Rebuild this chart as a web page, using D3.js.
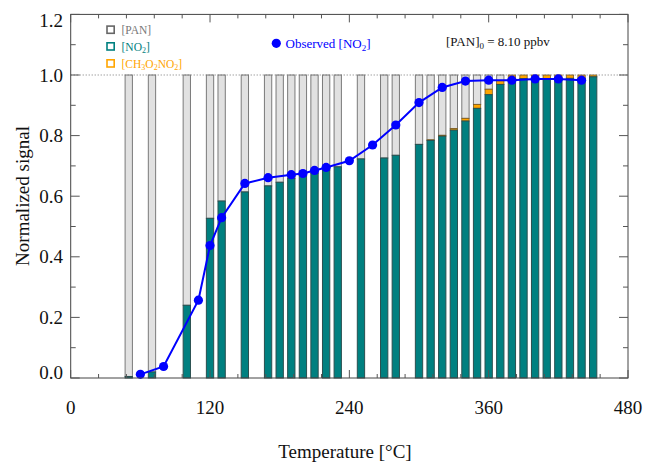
<!DOCTYPE html>
<html><head><meta charset="utf-8">
<script src="https://cdn.jsdelivr.net/npm/d3@7"></script>
<style>body{margin:0;background:#fff}svg{display:block}text{font-family:"Liberation Serif","Times New Roman",serif}</style>
</head><body>
<svg id="c" width="645" height="462"></svg>
<script>
const temps = [50,70,100,120,130,150,170,180,190,200,210,220,230,250,270,280,300,310,320,330,340,350,360,370,380,390,400,410,420,430,440,450];
const no2Frac = [0.005,0.02,0.24,0.527,0.584,0.614,0.634,0.646,0.659,0.668,0.676,0.686,0.697,0.723,0.726,0.735,0.771,0.784,0.798,0.818,0.848,0.89,0.935,0.969,0.987,0.988,0.988,0.988,0.989,0.989,0.989,0.994];
const ch3Frac = [0,0,0,0,0,0,0,0,0,0,0,0,0,0,0,0,0,0.002,0.003,0.005,0.009,0.013,0.018,0.012,0.013,0.012,0.012,0.012,0.011,0.011,0.011,0.006];
const panFrac = [0.995,0.98,0.76,0.473,0.416,0.386,0.366,0.354,0.341,0.332,0.324,0.314,0.303,0.277,0.274,0.265,0.229,0.214,0.199,0.177,0.143,0.097,0.047,0.019,0,0,0,0,0,0,0,0];
const obsTemps = [60,80,110,120,130,150,170,190,200,210,220,240,260,280,300,320,340,360,380,400,420,440];
const obsNO2 = [0.012,0.038,0.257,0.437,0.529,0.642,0.661,0.671,0.675,0.685,0.695,0.717,0.769,0.835,0.909,0.959,0.98,0.983,0.983,0.987,0.987,0.983];
const xTicks = [0,120,240,360,480];
const yTicks = [0,0.2,0.4,0.6,0.8,1.0,1.2];

const svg = d3.select("#c");
const L=70.7, R=628, T=14.4, B=378;
const x = d3.scaleLinear().domain([0,480]).range([L,R]);
const y = d3.scaleLinear().domain([0,1.2]).range([B,T]);
const barW = 6.3;
const bw = x(barW)-x(0);

// bars
const g = svg.append("g");
temps.forEach((t,i)=>{
  const n = no2Frac[i], c = ch3Frac[i], p = panFrac[i];
  const x0 = x(t)-bw/2;
  if (p>0) g.append("rect").attr("x",x0).attr("width",bw).attr("y",y(n+c+p)).attr("height",y(n+c)-y(n+c+p))
    .attr("fill","#e1e1e1").attr("stroke","#7a7a7a").attr("stroke-width",1);
  if (c>0) g.append("rect").attr("x",x0).attr("width",bw).attr("y",y(n+c)).attr("height",y(n)-y(n+c))
    .attr("fill","#ffa500").attr("stroke","#7a5a20").attr("stroke-width",0.8);
  g.append("rect").attr("x",x0).attr("width",bw).attr("y",y(n)).attr("height",y(0)-y(n))
    .attr("fill","#008080").attr("stroke","#2a4f4f").attr("stroke-width",1);
});

// dotted 1.0 line
svg.append("line").attr("x1",L).attr("x2",R).attr("y1",y(1)).attr("y2",y(1))
  .attr("stroke","#777").attr("stroke-width",1).attr("stroke-dasharray","1,2");

// observed line
const line = d3.line().x((d,i)=>x(obsTemps[i])).y(d=>y(d));
svg.append("path").datum(obsNO2).attr("d",line).attr("fill","none").attr("stroke","#0000ff").attr("stroke-width",2);
svg.selectAll("circle.o").data(obsNO2).enter().append("circle").attr("class","o")
  .attr("cx",(d,i)=>x(obsTemps[i])).attr("cy",d=>y(d)).attr("r",4.6).attr("fill","#0000ff");

// frame
svg.append("rect").attr("x",L).attr("y",T).attr("width",R-L).attr("height",B-T).attr("fill","none").attr("stroke","#444").attr("stroke-width",1);

// ticks
const ax = svg.append("g").attr("stroke","#555").attr("stroke-width",1);
d3.range(0,481,24).forEach(v=>{
  const major = v%120===0, len = major?8:4;
  ax.append("line").attr("x1",x(v)).attr("x2",x(v)).attr("y1",B).attr("y2",B-len);
  ax.append("line").attr("x1",x(v)).attr("x2",x(v)).attr("y1",T).attr("y2",T+len);
});
d3.range(0,13).forEach(k=>{
  const v=k/10, major = k%2===0, len = major?9:5;
  ax.append("line").attr("x1",L).attr("x2",L+len).attr("y1",y(v)).attr("y2",y(v));
  ax.append("line").attr("x1",R).attr("x2",R-len).attr("y1",y(v)).attr("y2",y(v));
});

// tick labels
svg.selectAll("text.xt").data(xTicks).enter().append("text").attr("class","xt")
  .attr("x",d=>x(d)).attr("y",414).attr("text-anchor","middle").attr("font-size",19).attr("fill","#111").text(d=>d);
svg.selectAll("text.yt").data(yTicks).enter().append("text").attr("class","yt")
  .attr("x",63).attr("y",d=>y(d)+(d===1.2?6:(d===0?-6:0))).attr("dy","0.35em").attr("text-anchor","end")
  .attr("font-size",19).attr("fill","#111").text(d=>d.toFixed(1));

// axis titles
svg.append("text").attr("x",345).attr("y",458).attr("text-anchor","middle").attr("font-size",19).attr("fill","#111")
  .text("Temperature [°C]");
svg.append("text").attr("transform","translate(29,196) rotate(-90)").attr("text-anchor","middle").attr("font-size",19).attr("fill","#111")
  .text("Normalized signal");

// legend
const leg = [
  {name:"[PAN]", col:"#777777", sq:"#666666"},
  {name:"NO2", col:"#008080", sq:"#008080"},
  {name:"CH3", col:"#ffa500", sq:"#ffa500"}
];
const ly = [29.7, 46.4, 63.4];
leg.forEach((d,i)=>{
  svg.append("rect").attr("x",107).attr("y",ly[i]-3.6).attr("width",7.2).attr("height",7.2)
    .attr("fill","none").attr("stroke",d.sq).attr("stroke-width",1.6);
});
const t1 = svg.append("text").attr("x",121.5).attr("y",34).attr("font-size",11.5).attr("fill","#777");
t1.text("[PAN]");
const t2 = svg.append("text").attr("x",121.5).attr("y",50.8).attr("font-size",11.5).attr("fill","#008080");
t2.append("tspan").text("[NO");
t2.append("tspan").attr("font-size",8).attr("dy",2.5).text("2");
t2.append("tspan").attr("dy",-2.5).text("]");
const t3 = svg.append("text").attr("x",121.5).attr("y",67.8).attr("font-size",11.5).attr("fill","#ffa500");
t3.append("tspan").text("[CH");
t3.append("tspan").attr("font-size",8).attr("dy",2.5).text("3");
t3.append("tspan").attr("dy",-2.5).text("O");
t3.append("tspan").attr("font-size",8).attr("dy",2.5).text("2");
t3.append("tspan").attr("dy",-2.5).text("NO");
t3.append("tspan").attr("font-size",8).attr("dy",2.5).text("2");
t3.append("tspan").attr("dy",-2.5).text("]");

svg.append("circle").attr("cx",276.3).attr("cy",43.3).attr("r",4.6).attr("fill","#0000ff");
const t4 = svg.append("text").attr("x",285.5).attr("y",47.5).attr("font-size",13).attr("fill","#0000ff");
t4.append("tspan").text("Observed [NO");
t4.append("tspan").attr("font-size",9).attr("dy",3).text("2");
t4.append("tspan").attr("dy",-3).text("]");

const t5 = svg.append("text").attr("x",446).attr("y",46).attr("font-size",13).attr("fill","#111");
t5.append("tspan").text("[PAN]");
t5.append("tspan").attr("font-size",9).attr("dy",3).text("0");
t5.append("tspan").attr("dy",-3).text(" = 8.10 ppbv");
</script>
</body></html>
